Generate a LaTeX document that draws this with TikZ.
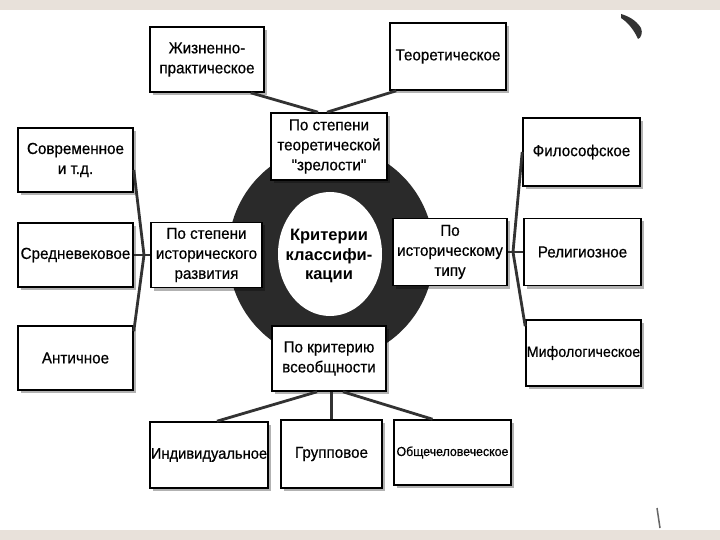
\documentclass[tikz,border=0pt]{standalone}
\usepackage{fontspec}
\setmainfont{Liberation Sans}
\newfontfamily\boxfont{Liberation Sans}[FakeStretch=0.95, FakeBold=0.5]
\usetikzlibrary{shadows}
\definecolor{bandc}{RGB}{232,225,218}
\definecolor{ringc}{RGB}{42,42,42}
\definecolor{linec}{RGB}{50,50,50}
\begin{document}
\begin{tikzpicture}[x=1pt,y=-1pt,
  box/.style={draw=black, line width=1.6pt, fill=white, align=center, inner sep=0pt,
    font=\boxfont\fontsize{16}{20}\selectfont,
    drop shadow={shadow xshift=3pt, shadow yshift=-3pt, opacity=0.3, fill=black}},
  conn/.style={line width=2.8pt, draw=linec},
  ctext/.style={align=center, font=\bfseries\fontsize{16.5}{19.5}\selectfont}]
\useasboundingbox (0,0) rectangle (720,540);
\fill[white] (0,0) rectangle (720,540);
\fill[bandc] (0,0) rectangle (720,10);
\fill[bandc] (0,530) rectangle (720,540);
% ring
\fill[ringc] (331,253) ellipse [x radius=103, y radius=107];
\fill[white] (330,254) ellipse [x radius=52, y radius=62];
\node[ctext] (crit) at (329,256) {Критерии\\классифи-\\кации};
% boxes
\node[box, minimum width=114pt, minimum height=65pt] (zp) at (207,59.5) {Жизненно-\\практическое};
\node[box, minimum width=116pt, minimum height=67pt] (teor) at (448,56.5) {Теоретическое};
\node[box, minimum width=116pt, minimum height=67pt] (zrel) at (329,146.5) {По степени\\теоретической\\"зрелости"};
\node[box, minimum width=115pt, minimum height=64pt] (sovr) at (75.5,160) {Современное\\и т.д.};
\node[box, minimum width=115pt, minimum height=64pt] (sredn) at (75.5,255) {Средневековое};
\node[box, minimum width=115pt, minimum height=64pt] (antich) at (75.5,358) {Античное};
\node[box, minimum width=111pt, minimum height=65pt] (istr) at (206.5,255) {По степени\\исторического\\развития};
\node[box, minimum width=114pt, minimum height=67pt] (isttip) at (450,252) {По\\историческому\\типу};
\node[box, minimum width=117pt, minimum height=68pt] (filos) at (581.5,152) {Философское};
\node[box, minimum width=117pt, minimum height=67pt] (relig) at (582.5,252) {Религиозное};
\node[box, minimum width=115pt, minimum height=66pt, font=\boxfont\fontsize{15}{19}\selectfont] (mif) at (583.5,353) {Мифологическое};
\node[box, minimum width=114pt, minimum height=65pt] (vseob) at (329,358.5) {По критерию\\всеобщности};
\node[box, minimum width=118pt, minimum height=66pt, font=\boxfont\fontsize{15.5}{19}\selectfont] (indiv) at (209,455) {Индивидуальное};
\node[box, minimum width=101pt, minimum height=68pt] (grup) at (331.5,454) {Групповое};
\node[box, minimum width=117pt, minimum height=65pt, font=\boxfont\fontsize{13}{16}\selectfont] (obsch) at (452.5,452.5) {Общечеловеческое};
% junctions
\coordinate (jl) at (144,255);
\coordinate (jr) at (513,252);
% connectors
\draw[conn] ([xshift=-14pt]zp.south east) -- ([xshift=-11pt]zrel.north);
\draw[conn] ([xshift=7pt]teor.south west) -- ([xshift=-2pt]zrel.north);
\draw[conn] (sredn.east) -- (istr.west);
\draw[conn] ([yshift=-10pt]sovr.east) -- (jl) -- ([yshift=-6pt]antich.north east);
\draw[conn] (isttip.east) -- (relig.west);
\draw[conn] (filos.west) -- (jr) -- ([yshift=-7pt]mif.north west);
\draw[conn] ([xshift=-12pt]vseob.south) -- ([xshift=8pt]indiv.north);
\draw[conn] (grup.north |- vseob.south) -- (grup.north);
\draw[conn] ([xshift=14pt]vseob.south) -- ([xshift=-20pt]obsch.north);
% scan marks
\fill[black!80] (621,14) .. controls (628,16) and (636,20) .. (641,28) .. controls (643,33) and (641,38) .. (638,39) .. controls (635,32) and (629,23) .. (621,18) -- cycle;
\draw[black!60, line width=1.5pt] (657,508) -- (660,528);
\end{tikzpicture}
\end{document}
